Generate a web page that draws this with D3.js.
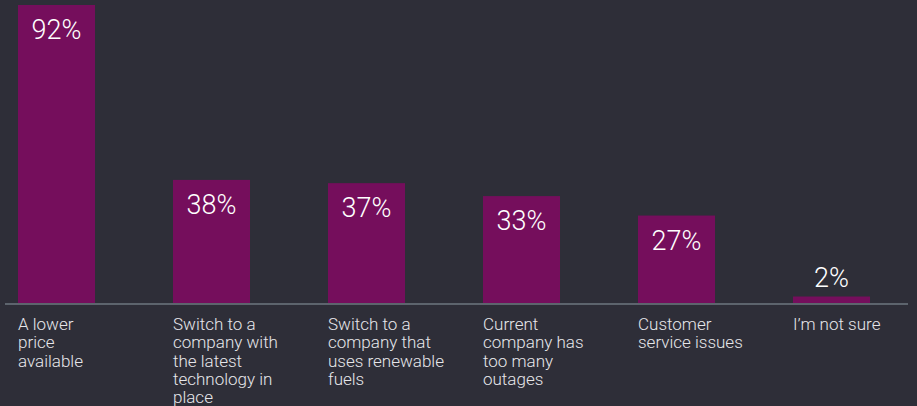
<!DOCTYPE html>
<html>
<head>
<meta charset="utf-8">
<script src="https://cdn.jsdelivr.net/npm/d3@7"></script>
<style>
  html, body { margin: 0; padding: 0; background: #2e2e38; }
  svg { display: block; }
</style>
</head>
<body>
<svg id="chart" width="917" height="406"></svg>
<script>
// Reasons to switch energy provider (share of respondents, %)
const categories = [
  "A lower price available",
  "Switch to a company with the latest technology in place",
  "Switch to a company that uses renewable fuels",
  "Current company has too many outages",
  "Customer service issues",
  "I’m not sure"
];
const values = [92, 38, 37, 33, 27, 2];
const labelLines = [
  ["A lower", "price", "available"],
  ["Switch to a", "company with", "the latest", "technology in", "place"],
  ["Switch to a", "company that", "uses renewable", "fuels"],
  ["Current", "company has", "too many", "outages"],
  ["Customer", "service issues"],
  ["I’m not sure"]
];

const W = 917, H = 406;
const baseline = 303;
const svg = d3.select("#chart");

svg.append("rect").attr("width", W).attr("height", H).attr("fill", "#2e2e38");

const x = d3.scaleBand()
  .domain(categories)
  .range([18 - 0.5 * 78 / 77 * 0, 18 + 155 * 6])
  .paddingInner(78 / 155)
  .paddingOuter(0)
  .align(0);

// Explicit step so bars are 77px wide every 155px
x.range([18, 18 + 155 * 5 + 77]).paddingInner(1 - 77 / 155);

const y = d3.scaleLinear().domain([0, 92]).range([baseline, 5]);

const data = categories.map((c, i) => ({ c, v: values[i], lines: labelLines[i] }));

svg.selectAll("rect.bar")
  .data(data)
  .join("rect")
  .attr("class", "bar")
  .attr("x", d => x(d.c))
  .attr("y", d => y(d.v))
  .attr("width", x.bandwidth())
  .attr("height", d => baseline - y(d.v))
  .attr("fill", "#750e5c");

// Baseline axis
svg.append("line")
  .attr("x1", 5).attr("x2", 908)
  .attr("y1", baseline + 1).attr("y2", baseline + 1)
  .attr("stroke", "#5d646d")
  .attr("stroke-width", 2);

// Value labels: inside the bar, or above it when the bar is too short
svg.selectAll("text.val")
  .data(data)
  .join("text")
  .attr("class", "val")
  .attr("x", d => x(d.c) + x.bandwidth() / 2)
  .attr("y", d => (baseline - y(d.v)) > 40 ? y(d.v) + 34 : y(d.v) - 10)
  .attr("text-anchor", "middle")
  .attr("fill", "#ffffff")
  .attr("font-family", "Roboto, 'Noto Sans', sans-serif")
  .attr("font-weight", 300)
  .attr("font-size", 27)
  .text(d => d.v + "%");

// Category labels under the axis
const cat = svg.selectAll("text.cat")
  .data(data)
  .join("text")
  .attr("class", "cat")
  .attr("x", d => x(d.c))
  .attr("y", 330)
  .attr("fill", "#e6e6ea")
  .attr("font-family", "Roboto, 'Noto Sans', sans-serif")
  .attr("font-weight", 300)
  .attr("font-size", 17);

cat.selectAll("tspan")
  .data(d => d.lines.map(l => ({ l, x: x(d.c) })))
  .join("tspan")
  .attr("x", t => t.x)
  .attr("dy", (t, i) => i === 0 ? 0 : 18.3)
  .text(t => t.l);
</script>
</body>
</html>
